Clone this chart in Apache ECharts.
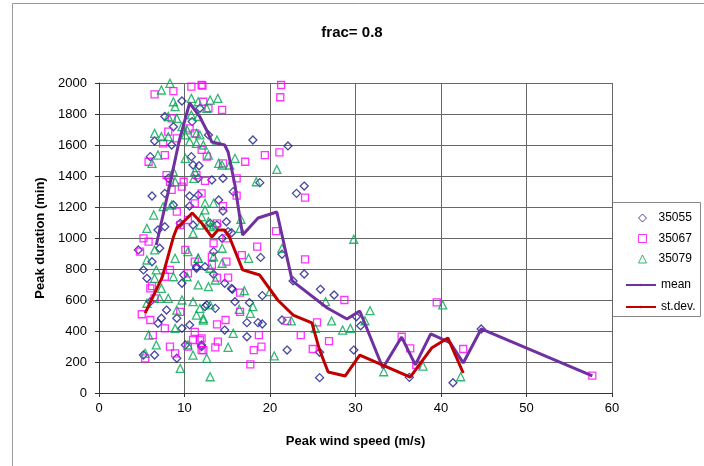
<!DOCTYPE html>
<html>
<head>
<meta charset="utf-8">
<script src="https://cdn.jsdelivr.net/npm/echarts@6/dist/echarts.min.js"></script>
<style>
  html, body { margin: 0; padding: 0; background: #fff; }
  #chart { width: 704px; height: 466px; }
</style>
</head>
<body>
<div id="chart"></div>
<script>
// [wind speed m/s, duration min]
var s35055 = [
  [18.0,1632],[22.1,1594],[18.8,1357],[23.1,1288],[24.0,1335],[15.5,1034],[18.9,875],[21.4,895],
  [24.0,768],[22.7,723],[25.9,669],[27.5,632],[19.1,628],[15.6,669],[15.9,589],[17.6,583],
  [17.3,454],[18.6,454],[19.1,445],[21.4,471],[17.3,363],[22.0,277],[25.8,263],[25.8,99],
  [29.8,277],[30.1,492],[30.6,434],[36.3,101],[41.4,66],[44.7,413],
  [12.8,1665],[13.2,1374],[14.5,1385],[15.7,1299],[14.0,1245],[14.5,1174],[14.9,1105],[13.0,1095],
  [13.8,1084],[14.4,998],[15.1,1041],[13.4,912],[11.4,815],[13.4,766],[14.7,708],[15.5,675],
  [12.6,568],[13.6,546],[14.7,406],[12.0,299],
  [9.7,1884],[7.7,1784],[8.7,1718],[6.5,1626],[8.5,1600],[10.9,1751],[11.8,1837],[6.0,1525],
  [10.8,1525],[11.0,1471],[11.7,1466],[8.1,1385],[11.6,1385],
  [6.2,1271],[7.7,1288],[10.6,1271],[11.6,1277],[10.6,1206],[8.7,1213],[6.9,1052],[7.7,1073],
  [9.5,1095],[11.0,1084],[4.6,923],[7.1,934],[6.2,847],[5.2,794],[5.6,740],[9.9,761],
  [11.4,805],[12.4,815],[9.7,708],
  [5.2,245],[6.5,245],[6.0,589],[6.9,450],[7.3,482],[7.9,535],[9.1,482],[9.7,417],
  [10.6,439],[10.1,310],[9.1,224],[12.4,557],[12.0,310]
];

var s35067 = [
  [17.1,1492],[19.4,1535],[21.1,1553],[16.1,1385],[16.1,1273],[24.1,1260],[20.7,1045],[18.5,944],
  [16.7,890],[24.1,862],[16.5,647],[16.5,524],[22.0,465],[25.5,456],[28.7,600],[18.7,374],
  [23.6,374],[26.9,335],[18.1,277],[19.0,299],[25.0,284],[17.7,185],[35.4,363],[36.4,288],
  [37.1,181],[39.5,585],[42.6,284],[57.7,112],
  [12.0,1987],[21.3,1987],[21.2,1908],[14.4,1826],[14.5,1482],[12.0,1568],[12.6,1525],[11.4,1406],
  [12.0,1288],[14.5,1206],[13.8,1095],[14.9,998],[13.4,966],[13.2,879],[14.9,847],[15.1,744],
  [13.8,744],[13.8,443],[14.8,471],[11.8,342],[12.0,277],[13.9,331],[13.6,295],[11.2,395],
  [6.5,1927],[8.7,1948],[10.8,1976],[12.1,1983],[12.2,1879],[12.8,1837],[8.5,1772],[8.1,1686],
  [9.1,1643],[11.2,1675],[10.6,1707],[7.5,1611],[5.8,1492],[7.7,1535],[7.9,1406],[9.9,1363],
  [12.4,1368],
  [8.3,1363],[9.7,1331],[8.5,1310],[11.2,1224],[9.1,1170],[9.5,1084],[10.4,1116],[5.2,998],
  [5.8,976],[4.8,912],[10.1,923],[11.2,847],[8.3,794],[7.7,750],[6.2,690],[10.4,772],[13.2,826],
  [5.0,508],[5.4,224],[6.0,471],[6.5,611],[6.3,374],[7.7,417],[8.3,299],[8.9,256],
  [9.5,524],[11.0,342],[12.0,353],[10.4,299],[12.2,277],[6.0,675]
];

var s35079 = [
  [15.9,1514],[20.8,1443],[18.4,1363],[16.6,1121],[16.5,1062],[29.8,992],[21.4,933],[17.5,869],
  [17.0,660],[20.0,654],[26.5,589],[31.7,531],[16.4,540],[18.0,557],[17.7,514],[27.2,465],
  [22.5,465],[28.5,406],[29.4,417],[31.1,466],[25.3,417],[15.7,385],[20.5,239],[33.3,137],
  [37.9,174],[40.2,568],[42.3,105],
  [11.6,1879],[13.0,1890],[13.9,1901],[12.6,1837],[13.8,1632],[12.8,1535],[14.0,1482],[14.4,1471],
  [15.3,1471],[11.8,1665],[11.4,1611],[12.4,1224],[13.4,1224],[12.8,1105],[11.8,1084],[13.4,1084],
  [14.4,934],[13.4,879],[13.0,805],[14.4,837],[11.6,869],[13.6,729],[12.8,686],[11.6,697],
  [13.0,568],[11.8,546],[12.2,471],[15.1,295],[12.6,224],[13.0,105],
  [8.3,1998],[7.3,1955],[8.7,1879],[8.9,1847],[10.8,1901],[8.1,1784],[9.1,1772],[10.8,1794],
  [11.6,1784],[9.7,1718],[10.3,1697],[10.1,1665],[11.4,1675],[6.5,1675],[7.3,1654],[8.1,1654],
  [10.6,1622],[12.2,1600],[6.9,1535],[6.2,1482],[10.1,1514],[8.7,1428],[11.2,1428],[11.1,1385],
  [8.9,1363],
  [6.4,1148],[5.6,1062],[7.5,1202],[8.5,1213],[11.0,1030],[12.0,1137],[12.4,1181],[13.0,1073],
  [5.6,858],[6.5,923],[6.7,794],[8.9,869],[10.4,912],[11.6,869],[8.7,750],[6.5,740],[10.3,750],
  [5.6,579],[5.4,256],[7.1,611],[7.3,675],[8.1,611],[9.7,600],[9.1,535],[5.8,374],
  [6.7,310],[8.9,417],[11.0,589],[11.4,503],[12.2,482],[11.0,245],[9.5,159],[10.4,310]
];

var meanLine = [
  [6.7,955],[8.2,1323],[9.4,1632],[10.6,1871],[11.8,1781],[12.7,1684],[13.2,1619],[14.7,1600],
  [15.1,1555],[15.9,1342],[16.3,1194],[16.8,1019],[18.6,1129],[20.8,1168],[22.6,723],[26.7,548],
  [29.0,477],[30.5,529],[33.2,161],[35.4,361],[37.0,181],[38.8,381],[41.1,323],[42.6,194],
  [44.7,413],[57.7,110]
];

var stdevLine = [
  [5.4,516],[7.4,748],[8.7,1006],[9.1,1065],[10.1,1116],[10.9,1161],[12.0,1097],[13.2,1006],
  [13.9,1052],[14.7,1052],[15.3,1000],[16.8,794],[18.8,761],[20.9,600],[22.7,503],[24.9,452],
  [25.8,277],[26.8,135],[28.8,110],[30.5,245],[36.4,103],[38.9,290],[40.8,355],[42.6,129]
];

var font = 'Liberation Sans, Arial, sans-serif';
var chart = echarts.init(document.getElementById('chart'));

function marker(name, symbol, size, color, data) {
  return {
    name: name,
    type: 'scatter',
    symbol: symbol,
    symbolSize: size,
    itemStyle: { color: 'transparent', borderColor: color, borderWidth: 1.3 },
    data: data
  };
}

var axisCommon = {
  type: 'value',
  nameLocation: 'middle',
  nameTextStyle: { fontFamily: font, fontSize: 13, fontWeight: 'bold', color: '#000' },
  axisLine: { show: true, lineStyle: { color: '#333', width: 1 } },
  axisTick: { show: true, length: 4, lineStyle: { color: '#333' } },
  axisLabel: { fontFamily: font, fontSize: 13, color: '#000', formatter: function (v) { return String(v); } },
  splitLine: { show: true, lineStyle: { color: '#666', width: 1 } }
};

chart.setOption({
  animation: false,
  backgroundColor: '#fff',
  title: {
    text: 'frac= 0.8',
    left: 'center',
    top: 20,
    textStyle: { fontFamily: font, fontSize: 15, fontWeight: 'bold', color: '#000' }
  },
  graphic: [
    { type: 'rect', z: -10, shape: { x: 12.5, y: 3.5, width: 700, height: 470 },
      style: { fill: 'none', stroke: '#999', lineWidth: 1 } },
    { type: 'rect', z: 0, shape: { x: 612.5, y: 202.5, width: 88, height: 114 },
      style: { fill: '#fff', stroke: '#888', lineWidth: 1 } }
  ],
  grid: { left: 99, right: 92, top: 83, bottom: 73 },
  xAxis: Object.assign({}, axisCommon, {
    min: 0, max: 60, interval: 10,
    name: 'Peak wind speed (m/s)',
    nameGap: 42,
    axisLabel: Object.assign({}, axisCommon.axisLabel, { margin: 9 })
  }),
  yAxis: Object.assign({}, axisCommon, {
    min: 0, max: 2000, interval: 200,
    name: 'Peak duration (min)',
    nameGap: 48,
    axisLabel: Object.assign({}, axisCommon.axisLabel, { margin: 12 })
  }),
  legend: [
    {
      data: ['35055', '35067', '35079'],
      orient: 'vertical',
      left: 633, top: 207,
      itemWidth: 8, itemHeight: 8, itemGap: 8.5,
      itemStyle: { borderWidth: 1 },
      textStyle: { fontFamily: font, fontSize: 12, color: '#000', padding: [0, 0, 0, 7] }
    },
    {
      data: ['mean', 'st.dev.'],
      orient: 'vertical',
      left: 620, top: 274,
      itemWidth: 30, itemHeight: 3, itemGap: 10,
      textStyle: { fontFamily: font, fontSize: 12, color: '#000' }
    }
  ],
  series: [
    marker('35055', 'diamond', 8, '#1a1a8c', s35055),
    marker('35067', 'rect', 7, '#ff00ff', s35067),
    marker('35079', 'triangle', 8, '#00a651', s35079),
    {
      name: 'mean', type: 'line', symbol: 'none', showSymbol: false,
      lineStyle: { color: '#7030a0', width: 3 }, itemStyle: { color: '#7030a0' },
      data: meanLine
    },
    {
      name: 'st.dev.', type: 'line', symbol: 'none', showSymbol: false,
      lineStyle: { color: '#c00000', width: 3 }, itemStyle: { color: '#c00000' },
      data: stdevLine
    }
  ]
});
</script>
</body>
</html>
